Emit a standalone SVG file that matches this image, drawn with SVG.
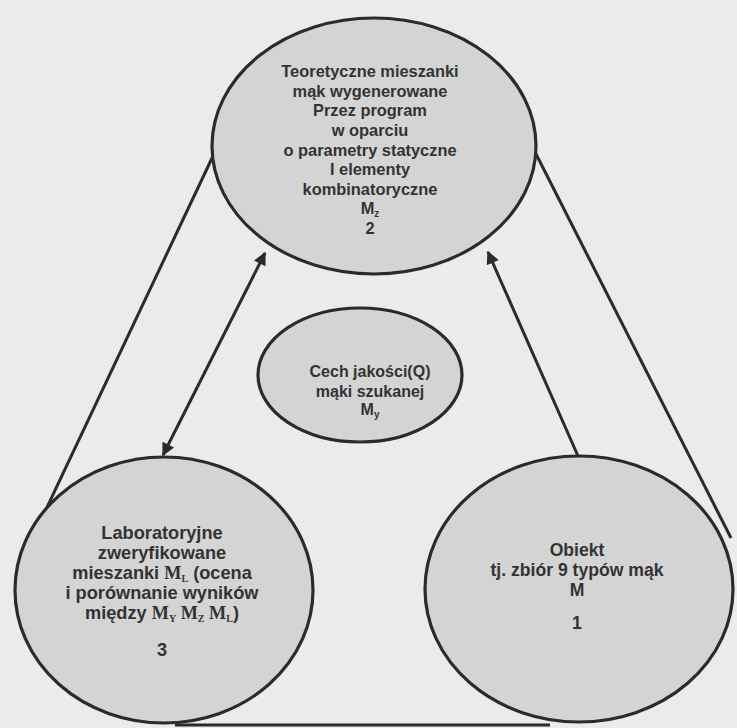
<svg xmlns="http://www.w3.org/2000/svg" width="737" height="728" viewBox="0 0 737 728">
<defs>
<marker id="ah" viewBox="0 0 10 10" refX="9" refY="5" markerUnits="userSpaceOnUse" markerWidth="16" markerHeight="13" orient="auto-start-reverse">
<path d="M0,0 L10,5 L0,10 z" fill="#2b2b2b"/>
</marker>
</defs>
<style>
.bg{fill:#ebebea}
.node{fill:#d4d4d4;stroke:#2b2b2b;stroke-width:3.2}
.edge{stroke:#2b2b2b;stroke-width:3;fill:none}
.t{font-family:"Liberation Sans",Arial,sans-serif;font-weight:bold;font-size:16.4px;fill:#333;text-anchor:middle}
.m{font-size:16px}
.l{font-size:18.2px}
.r{font-size:17.6px}
.s{font-family:"Liberation Serif","Times New Roman",serif;font-weight:bold}
.sub{font-size:10px}
</style>
<rect class="bg" x="0" y="0" width="737" height="728"/>
<g id="connectors">
<line class="edge" x1="213" y1="156" x2="24" y2="556"/>
<line class="edge" x1="265" y1="253" x2="163" y2="455" marker-start="url(#ah)" marker-end="url(#ah)"/>
<line class="edge" x1="578" y1="456" x2="488" y2="252" marker-end="url(#ah)"/>
<line class="edge" x1="535" y1="152" x2="731" y2="538"/>
<line class="edge" x1="175" y1="725" x2="550" y2="725"/>
</g>
<g id="node2">
<ellipse class="node" cx="374" cy="146" rx="162" ry="128"/>
<text class="t" x="370" y="77">Teoretyczne mieszanki</text>
<text class="t" x="370" y="97">mąk wygenerowane</text>
<text class="t" x="370" y="116">Przez program</text>
<text class="t" x="370" y="136">w oparciu</text>
<text class="t" x="370" y="156">o parametry statyczne</text>
<text class="t" x="370" y="175">I elementy</text>
<text class="t" x="370" y="195">kombinatoryczne</text>
<text class="t" x="370" y="214">M<tspan class="sub" dy="3">z</tspan></text>
<text class="t" x="370" y="234">2</text>
</g>
<g id="nodeY">
<ellipse class="node" cx="360" cy="375" rx="102" ry="67"/>
<text class="t m" x="370" y="377">Cech jakości(Q)</text>
<text class="t m" x="370" y="397">mąki szukanej</text>
<text class="t m" x="370" y="415">M<tspan class="sub" dy="3">y</tspan></text>
</g>
<g id="node3">
<ellipse class="node" cx="164" cy="590" rx="149" ry="133"/>
<text class="t l" x="162" y="539">Laboratoryjne</text>
<text class="t l" x="162" y="559">zweryfikowane</text>
<text class="t l" x="162" y="579">mieszanki <tspan class="s">M<tspan class="sub" dy="3">L</tspan></tspan><tspan dy="-3"> (ocena</tspan></text>
<text class="t l" x="162" y="599">i porównanie wyników</text>
<text class="t l" x="162" y="619">między  <tspan class="s">M<tspan class="sub" dy="3">Y</tspan><tspan dy="-3"> M</tspan><tspan class="sub" dy="3">Z</tspan><tspan dy="-3"> M</tspan><tspan class="sub" dy="3">L</tspan></tspan><tspan dy="-3">)</tspan></text>
<text class="t l" x="162" y="656">3</text>
</g>
<g id="node1">
<ellipse class="node" cx="579" cy="589" rx="154" ry="133"/>
<text class="t r" x="577" y="556">Obiekt</text>
<text class="t r" x="577" y="576">tj. zbiór 9 typów mąk</text>
<text class="t r" x="577" y="596">M</text>
<text class="t r" x="577" y="629">1</text>
</g>
</svg>
